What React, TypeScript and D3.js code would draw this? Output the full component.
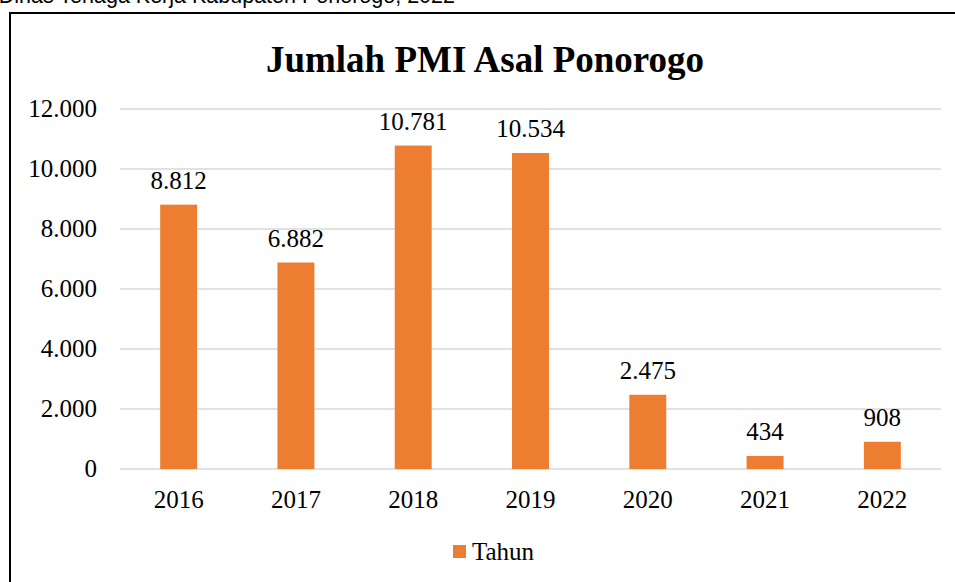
import React from "react";
import * as d3 from "d3";

const years = ["2016", "2017", "2018", "2019", "2020", "2021", "2022"];
const values = [8812, 6882, 10781, 10534, 2475, 434, 908];
const yTicks = [0, 2000, 4000, 6000, 8000, 10000, 12000];
const title = "Jumlah PMI Asal Ponorogo";
const seriesName = "Tahun";
const sourceText = "Sumber: Dinas Tenaga Kerja Kabupaten Ponorogo, 2022";

const W = 955;
const H = 582;
const plotLeft = 120;
const plotRight = 941;
const plotTop = 109;
const plotBottom = 469;
const barColor = "#ED7D31";
const serif = "'Liberation Serif', 'Times New Roman', serif";

const fmt = (v: number) =>
  v.toString().replace(/\B(?=(\d{3})+(?!\d))/g, ".");

export default function App() {
  const x = d3
    .scaleBand<string>()
    .domain(years)
    .range([plotLeft, plotRight])
    .paddingInner(0.685)
    .paddingOuter(0.3425);
  const y = d3.scaleLinear().domain([0, 12000]).range([plotBottom, plotTop]);

  return (
    <svg
      width={W}
      height={H}
      style={{ position: "absolute", left: 0, top: 0, background: "#fff" }}
    >
      <rect x={0} y={0} width={W} height={H} fill="#fff" />
      <text
        x={455}
        y={3}
        textAnchor="end"
        fontFamily="'Liberation Sans', Arial, sans-serif"
        fontSize={21.5}
        fill="#000"
      >
        {sourceText}
      </text>
      <rect
        x={10}
        y={13}
        width={W + 20}
        height={H + 20}
        fill="none"
        stroke="#000"
        strokeWidth={2}
      />
      <text
        x={485}
        y={72}
        textAnchor="middle"
        fontFamily={serif}
        fontWeight="bold"
        fontSize={37}
        fill="#000"
      >
        {title}
      </text>
      {yTicks.map((t) => (
        <g key={t}>
          <line
            x1={plotLeft}
            x2={plotRight}
            y1={y(t)}
            y2={y(t)}
            stroke="#d9d9d9"
            strokeWidth={1.5}
          />
          <text
            x={97}
            y={y(t) + 8}
            textAnchor="end"
            fontFamily={serif}
            fontSize={25}
            fill="#000"
          >
            {fmt(t)}
          </text>
        </g>
      ))}
      {years.map((yr, i) => (
        <g key={yr}>
          <rect
            x={x(yr)}
            y={y(values[i])}
            width={x.bandwidth()}
            height={plotBottom - y(values[i])}
            fill={barColor}
          />
          <text
            x={(x(yr) as number) + x.bandwidth() / 2}
            y={y(values[i]) - 16}
            textAnchor="middle"
            fontFamily={serif}
            fontSize={25}
            fill="#000"
          >
            {fmt(values[i])}
          </text>
          <text
            x={(x(yr) as number) + x.bandwidth() / 2}
            y={508}
            textAnchor="middle"
            fontFamily={serif}
            fontSize={25}
            fill="#000"
          >
            {yr}
          </text>
        </g>
      ))}
      <rect x={453} y={545} width={13} height={13} fill={barColor} />
      <text x={472} y={560} fontFamily={serif} fontSize={25} fill="#000">
        {seriesName}
      </text>
    </svg>
  );
}
